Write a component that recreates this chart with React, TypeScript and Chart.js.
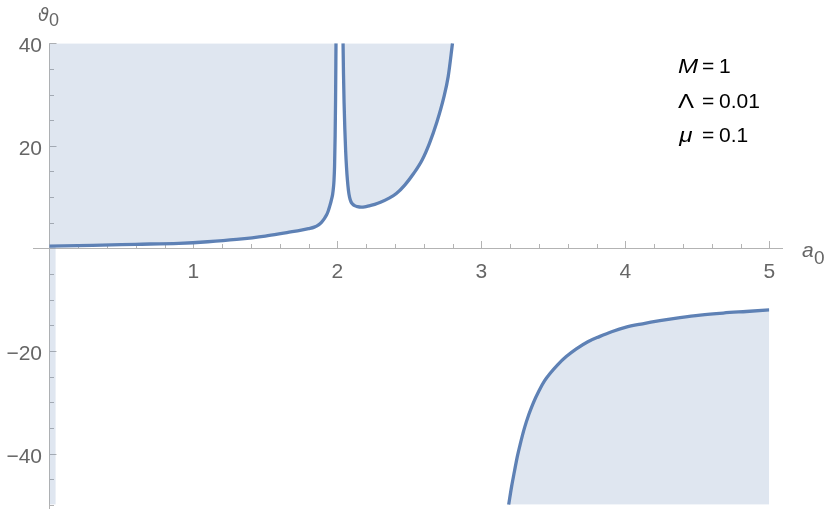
import React, { useEffect, useRef } from "react";
import { Chart, registerables } from "chart.js";

Chart.register(...registerables);

// ---- data ----
// upper-left branch (fill above, to the top of the plot range)
const leftA = [0, 0.3, 0.6, 0.9, 1.1, 1.3, 1.5, 1.65, 1.75, 1.8, 1.84, 1.87, 1.89, 1.91, 1.925, 1.937, 1.947, 1.956, 1.963, 1.968, 1.973, 1.977, 1.981, 1.985, 1.988, 1.991];
const leftTheta = [0.45, 0.6, 0.8, 1.0, 1.3, 1.75, 2.4, 3.1, 3.55, 3.85, 4.15, 4.6, 5.1, 5.8, 6.5, 7.3, 8.2, 9.1, 9.9, 10.6, 11.8, 13.2, 16.0, 22.0, 29.0, 40];
// upper-middle branch (fill above)
const midA = [2.04, 2.043, 2.047, 2.052, 2.058, 2.064, 2.07, 2.077, 2.085, 2.095, 2.105, 2.12, 2.14, 2.165, 2.19, 2.22, 2.26, 2.3, 2.36, 2.41, 2.47, 2.53, 2.59, 2.64, 2.69, 2.74, 2.77, 2.8];
const midTheta = [40, 34, 28.5, 23.5, 19, 15.8, 13.4, 11.4, 10.0, 9.1, 8.7, 8.35, 8.15, 8.05, 8.1, 8.3, 8.6, 9.0, 9.8, 10.7, 12.4, 14.6, 17.3, 20.5, 24.5, 29.5, 33.5, 40];
// lower-right branch (fill below, to the bottom of the plot range)
const lowA = [3.19, 3.21, 3.23, 3.25, 3.27, 3.3, 3.33, 3.36, 3.4, 3.44, 3.48, 3.53, 3.59, 3.66, 3.74, 3.82, 3.91, 4.0, 4.12, 4.24, 4.38, 4.52, 4.68, 4.84, 5.0];
const lowTheta = [-50, -46.5, -43.5, -40.6, -38.2, -35.0, -32.4, -30.2, -27.8, -25.8, -24.3, -22.7, -21.1, -19.6, -18.2, -17.2, -16.2, -15.4, -14.7, -14.1, -13.5, -13.0, -12.6, -12.3, -12.0];
// thin filled strip next to a0 = 0
const stripA = [0, 0.045];
const stripTheta = [0.45, 0.46];

const xMajorTicks = [1, 2, 3, 4, 5];
const yMajorTicks = [40, 20, -20, -40];
const paramSymbols = ["M", "Λ", "μ"];
const paramItalic = [true, false, true];
const paramValues = ["1", "0.01", "0.1"];
const paramSymbolWidths = [21, 16, 17];

const LINE = "#5e81b5";
const FILL = "rgba(94,129,181,0.2)";
const AXIS = "#b3b3b3";
const LABEL = "#666666";
const FONT = "'Liberation Sans', Arial, sans-serif";

const pts = (xs: number[], ys: number[]) => xs.map((x, i) => ({ x, y: ys[i] }));

const axesPlugin = {
  id: "mmaAxes",
  beforeDatasetsDraw(chart: any) {
    const { ctx, scales } = chart;
    const xs = scales.x;
    const ys = scales.y;
    const x0 = Math.round(xs.getPixelForValue(0)) + 0.5;
    const y0 = Math.round(ys.getPixelForValue(0)) + 0.5;
    ctx.save();
    ctx.strokeStyle = AXIS;
    ctx.lineWidth = 1;
    ctx.beginPath();
    ctx.moveTo(33, y0);
    ctx.lineTo(783, y0);
    ctx.moveTo(x0, ys.getPixelForValue(40));
    ctx.lineTo(x0, 509);
    for (let i = 1; i <= 25; i++) {
      const px = Math.round(xs.getPixelForValue(i * 0.2)) + 0.5;
      const len = i % 5 === 0 ? 7.5 : 4.5;
      ctx.moveTo(px, y0);
      ctx.lineTo(px, y0 - len);
    }
    for (let v = -50; v <= 40; v += 5) {
      if (v === 0) continue;
      const py = Math.round(ys.getPixelForValue(v)) + 0.5;
      const len = v % 20 === 0 ? 7 : 4.5;
      ctx.moveTo(x0, py);
      ctx.lineTo(x0 + len, py);
    }
    ctx.stroke();
    ctx.restore();
  },
  afterDatasetsDraw(chart: any) {
    const { ctx, scales } = chart;
    const xs = scales.x;
    const ys = scales.y;
    const y0 = ys.getPixelForValue(0);
    ctx.save();
    ctx.fillStyle = LABEL;
    ctx.font = `21px ${FONT}`;
    ctx.textBaseline = "alphabetic";
    ctx.textAlign = "center";
    xMajorTicks.forEach((v) => {
      ctx.fillText(String(v), xs.getPixelForValue(v), y0 + 30);
    });
    ctx.textAlign = "right";
    yMajorTicks.forEach((v) => {
      const t = v < 0 ? "\u2212" + Math.abs(v) : String(v);
      ctx.fillText(t, 42, ys.getPixelForValue(v) + 9);
    });
    // axis labels
    ctx.textAlign = "left";
    ctx.font = `italic 21px ${FONT}`;
    ctx.fillText("a", 802, 257);
    ctx.font = `19px ${FONT}`;
    ctx.fillText("0", 814, 264);
    ctx.font = `italic 18px 'DejaVu Sans', ${FONT}`;
    ctx.fillText("ϑ", 38, 21);
    ctx.font = `18px ${FONT}`;
    ctx.fillText("0", 49, 26);
    // parameter legend
    ctx.fillStyle = "#000000";
    const baselines = [73, 108, 142];
    paramSymbols.forEach((s, i) => {
      ctx.font = `${paramItalic[i] ? "italic " : ""}21px ${FONT}`;
      const m = ctx.measureText(s);
      const ink = m.actualBoundingBoxLeft + m.actualBoundingBoxRight;
      const k = ink > 0 ? Math.min(1.15, Math.max(1, paramSymbolWidths[i] / ink)) : 1;
      ctx.save();
      ctx.translate(678, baselines[i]);
      ctx.scale(k, 1);
      ctx.fillText(s, m.actualBoundingBoxLeft, 0);
      ctx.restore();
      ctx.font = `21px ${FONT}`;
      ctx.fillText("=", 702, baselines[i]);
      ctx.fillText(paramValues[i], 719, baselines[i]);
    });
    ctx.restore();
  },
};

export default function App() {
  const ref = useRef<HTMLCanvasElement>(null);
  useEffect(() => {
    if (!ref.current) return;
    const common = {
      borderColor: LINE,
      backgroundColor: FILL,
      borderWidth: 3.3,
      pointRadius: 0,
      cubicInterpolationMode: "monotone" as const,
    };
    const chart = new Chart(ref.current, {
      type: "line",
      data: {
        datasets: [
          { ...common, data: pts(leftA, leftTheta), fill: "end" },
          { ...common, data: pts(midA, midTheta), fill: "end" },
          { ...common, data: pts(lowA, lowTheta), fill: "start" },
          { ...common, data: pts(stripA, stripTheta), fill: "start", borderWidth: 0 },
        ],
      },
      options: {
        responsive: false,
        maintainAspectRatio: false,
        devicePixelRatio: 1,
        animation: false,
        events: [],
        layout: { padding: { left: 49.3, right: 60.7, top: 43.3, bottom: 4.2 } },
        scales: {
          x: { type: "linear", min: 0, max: 5, display: false },
          y: { type: "linear", min: -50, max: 40, display: false },
        },
        plugins: { legend: { display: false }, tooltip: { enabled: false } },
      },
      plugins: [axesPlugin],
    });
    return () => chart.destroy();
  }, []);
  return (
    <div style={{ position: "fixed", left: 0, top: 0, width: 830, height: 509, background: "#ffffff" }}>
      <canvas ref={ref} width={830} height={509} style={{ display: "block", width: 830, height: 509 }} />
    </div>
  );
}
